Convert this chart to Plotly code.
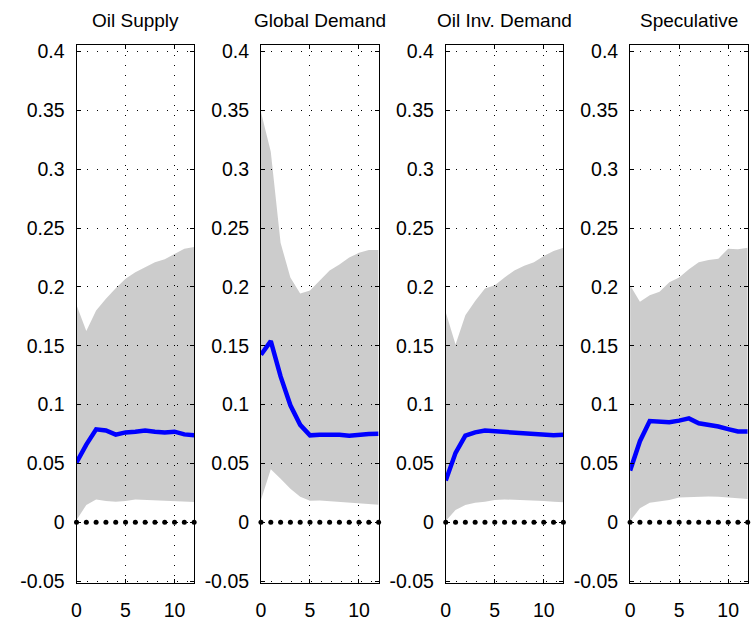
import plotly.graph_objects as go

horizon = list(range(13))
titles = ["Oil Supply", "Global Demand", "Oil Inv. Demand", "Speculative"]

resp_supply = [0.0508, 0.066, 0.079, 0.078, 0.0745, 0.0764, 0.0769, 0.078, 0.077, 0.0764, 0.077, 0.0747, 0.074]
up_supply = [0.1847, 0.1625, 0.180, 0.190, 0.199, 0.207, 0.2125, 0.2167, 0.221, 0.2236, 0.2278, 0.2325, 0.234]
lo_supply = [0.002, 0.0147, 0.0194, 0.018, 0.0175, 0.018, 0.0194, 0.019, 0.0186, 0.0183, 0.018, 0.0175, 0.0172]

resp_global = [0.1425, 0.154, 0.124, 0.0994, 0.0828, 0.0739, 0.0744, 0.0747, 0.0744, 0.0736, 0.0747, 0.075, 0.0753]
up_global = [0.3486, 0.315, 0.2375, 0.208, 0.1944, 0.197, 0.2055, 0.2139, 0.219, 0.225, 0.229, 0.2314, 0.2314]
lo_global = [0.0189, 0.045, 0.037, 0.0286, 0.0217, 0.0183, 0.0186, 0.018, 0.0175, 0.017, 0.0167, 0.016, 0.015]

resp_inv = [0.0355, 0.059, 0.0736, 0.0764, 0.078, 0.0775, 0.0761, 0.0764, 0.0753, 0.075, 0.0742, 0.0739, 0.0744]
up_inv = [0.1786, 0.151, 0.176, 0.188, 0.1986, 0.2014, 0.208, 0.214, 0.218, 0.221, 0.2264, 0.2305, 0.2333]
lo_inv = [0.001, 0.0105, 0.0147, 0.0167, 0.0175, 0.0189, 0.0194, 0.0192, 0.0189, 0.0186, 0.018, 0.0175, 0.017]

resp_spec = [0.0439, 0.0689, 0.0861, 0.0858, 0.085, 0.0864, 0.0883, 0.0842, 0.0831, 0.0814, 0.0792, 0.0772, 0.0772]
up_spec = [0.2014, 0.1875, 0.193, 0.196, 0.204, 0.208, 0.215, 0.221, 0.223, 0.224, 0.2325, 0.232, 0.2333]
lo_spec = [0.001, 0.0119, 0.0167, 0.018, 0.0189, 0.021, 0.0214, 0.022, 0.022, 0.0217, 0.021, 0.0203, 0.0197]

zero_line = [0] * 13

responses = [resp_supply, resp_global, resp_inv, resp_spec]
uppers = [up_supply, up_global, up_inv, up_spec]
lowers = [lo_supply, lo_global, lo_inv, lo_spec]

ytick_vals = [-0.05, 0, 0.05, 0.1, 0.15, 0.2, 0.25, 0.3, 0.35, 0.4]
ytick_text = ["-0.05", "0", "0.05", "0.1", "0.15", "0.2", "0.25", "0.3", "0.35", "0.4"]
xtick_vals = [0, 5, 10]

W, H = 752, 628
lefts = [72, 257.7, 443.7, 629.3]
pw = 118.4
top_px, bot_px = 41, 590.7

fig = go.Figure()
tfont = dict(family="Liberation Sans, Arial, sans-serif", size=19.5, color="black")
hfont = dict(family="Liberation Sans, Arial, sans-serif", size=19, color="black")

for i in range(4):
    xa = "x" if i == 0 else f"x{i+1}"
    ya = "y" if i == 0 else f"y{i+1}"
    fig.add_trace(go.Scatter(x=horizon, y=lowers[i], mode="lines", line=dict(width=0),
                             xaxis=xa, yaxis=ya, showlegend=False, hoverinfo="skip"))
    fig.add_trace(go.Scatter(x=horizon, y=uppers[i], mode="lines", line=dict(width=0),
                             fill="tonexty", fillcolor="rgba(0,0,0,0.2)",
                             xaxis=xa, yaxis=ya, showlegend=False, hoverinfo="skip"))
    fig.add_trace(go.Scatter(x=horizon, y=zero_line, mode="markers",
                             marker=dict(color="black", size=5),
                             xaxis=xa, yaxis=ya, showlegend=False, cliponaxis=False))
    fig.add_trace(go.Scatter(x=horizon, y=responses[i], mode="lines",
                             line=dict(color="#0000ff", width=4.5),
                             xaxis=xa, yaxis=ya, showlegend=False))
    axcommon = dict(showline=True, linecolor="black", linewidth=1, mirror="ticks",
                    ticks="inside", ticklen=4, tickcolor="black", showgrid=True,
                    gridcolor="black", gridwidth=1, griddash="1px,9px",
                    zeroline=False, tickfont=tfont)
    xkey = "xaxis" if i == 0 else f"xaxis{i+1}"
    ykey = "yaxis" if i == 0 else f"yaxis{i+1}"
    fig.layout[xkey] = dict(axcommon, domain=[lefts[i] / W, (lefts[i] + pw) / W],
                            range=[0, 12], tickvals=xtick_vals, anchor=ya,
                            ticklabelstandoff=9)
    fig.layout[ykey] = dict(axcommon, domain=[(H - bot_px) / H, (H - top_px) / H],
                            range=[-0.052, 0.4055], tickvals=ytick_vals, ticktext=ytick_text,
                            anchor=xa, ticklabelstandoff=7)
    fig.add_annotation(text=titles[i], x=(lefts[i] + pw / 2) / W, y=1 - 16 / H,
                       xref="paper", yref="paper", showarrow=False,
                       xanchor="center", yanchor="middle", font=hfont)

fig.update_layout(width=W, height=H, margin=dict(l=0, r=0, t=0, b=0),
                  paper_bgcolor="white", plot_bgcolor="white")
fig.write_html("out.html")
